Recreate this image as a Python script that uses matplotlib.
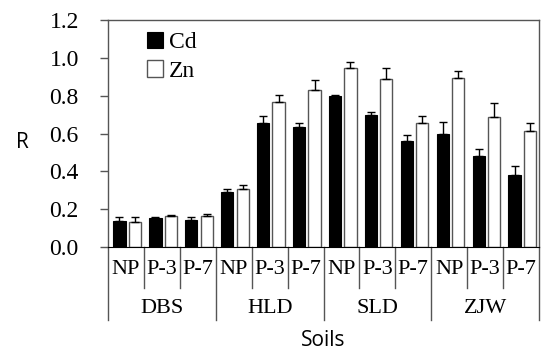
import matplotlib

matplotlib.use("Agg")
import matplotlib.pyplot as plt  # noqa: E402
import matplotlib.transforms as mtransforms  # noqa: E402
import numpy as np  # noqa: E402

soils = ["DBS", "HLD", "SLD", "ZJW"]
treatments = ["NP", "P-3", "P-7"]
cd = [0.136, 0.152, 0.143, 0.292, 0.657, 0.634, 0.798, 0.699, 0.560, 0.597, 0.479, 0.381]
cd_err = [0.024, 0.004, 0.017, 0.013, 0.034, 0.023, 0.004, 0.016, 0.034, 0.064, 0.039, 0.047]
zn = [0.132, 0.165, 0.165, 0.308, 0.766, 0.831, 0.944, 0.888, 0.657, 0.895, 0.687, 0.615]
zn_err = [0.028, 0.005, 0.011, 0.018, 0.039, 0.050, 0.032, 0.060, 0.034, 0.035, 0.072, 0.039]

serif = "Liberation Serif"
sans = "Open Sans"

fig = plt.figure(figsize=(5.41, 3.49), dpi=100)
ax = fig.add_axes([108 / 541, 1 - 247 / 349, 431 / 541, 227 / 349])

n = len(cd)
x = np.arange(n)
w = 0.34
err_kw = dict(ecolor="black", elinewidth=1, capsize=3, capthick=1)
ax.bar(x - 0.18, cd, w, color="black", edgecolor="black", linewidth=0.8,
       yerr=[np.zeros(n), cd_err], error_kw=err_kw, label="Cd")
ax.bar(x + 0.25, zn, w, color="white", edgecolor="#555555", linewidth=1,
       yerr=[np.zeros(n), zn_err], error_kw=err_kw, label="Zn")

ax.set_xlim(-0.5, n - 0.5)
ax.set_ylim(0, 1.2)
ax.set_yticks(np.arange(0, 1.21, 0.2))
ax.set_yticklabels([f"{v:.1f}" for v in np.arange(0, 1.21, 0.2)], family=serif, fontsize=17)
ax.set_xticks([])
ax.tick_params(axis="y", direction="out", length=6, width=1, pad=15, color="#555555")
for side in ["top", "right", "left"]:
    ax.spines[side].set_color("#555555")
    ax.spines[side].set_linewidth(1)
ax.spines["bottom"].set_color("black")

# two-level category labels below the axis
tr = mtransforms.blended_transform_factory(ax.transData, ax.transAxes)
for i in range(n + 1):
    y1 = -0.32 if i % 3 == 0 else -0.18
    ax.plot([i - 0.5, i - 0.5], [0, y1], color="#555555", lw=1, transform=tr, clip_on=False)
for i in range(n):
    ax.text(i, -0.10, treatments[i % 3], transform=tr, ha="center", va="center",
            family=serif, fontsize=16)
for g, s in enumerate(soils):
    ax.text(3 * g + 1, -0.27, s, transform=tr, ha="center", va="center",
            family=serif, fontsize=16)

fig.text(22 / 541, 1 - 142 / 349, "R", family=sans, fontsize=15, ha="center", va="center")
fig.text((108 + 539) / 2 / 541, 1 - 340 / 349, "Soils", family=sans, fontsize=15,
         ha="center", va="center")

ax.legend(loc="upper left", bbox_to_anchor=(0.068, 0.99), frameon=False,
          prop={"family": serif, "size": 17}, handlelength=0.7, handleheight=0.7,
          handletextpad=0.25, labelspacing=0.3, borderaxespad=0)

fig.savefig("out.png", dpi=100)
